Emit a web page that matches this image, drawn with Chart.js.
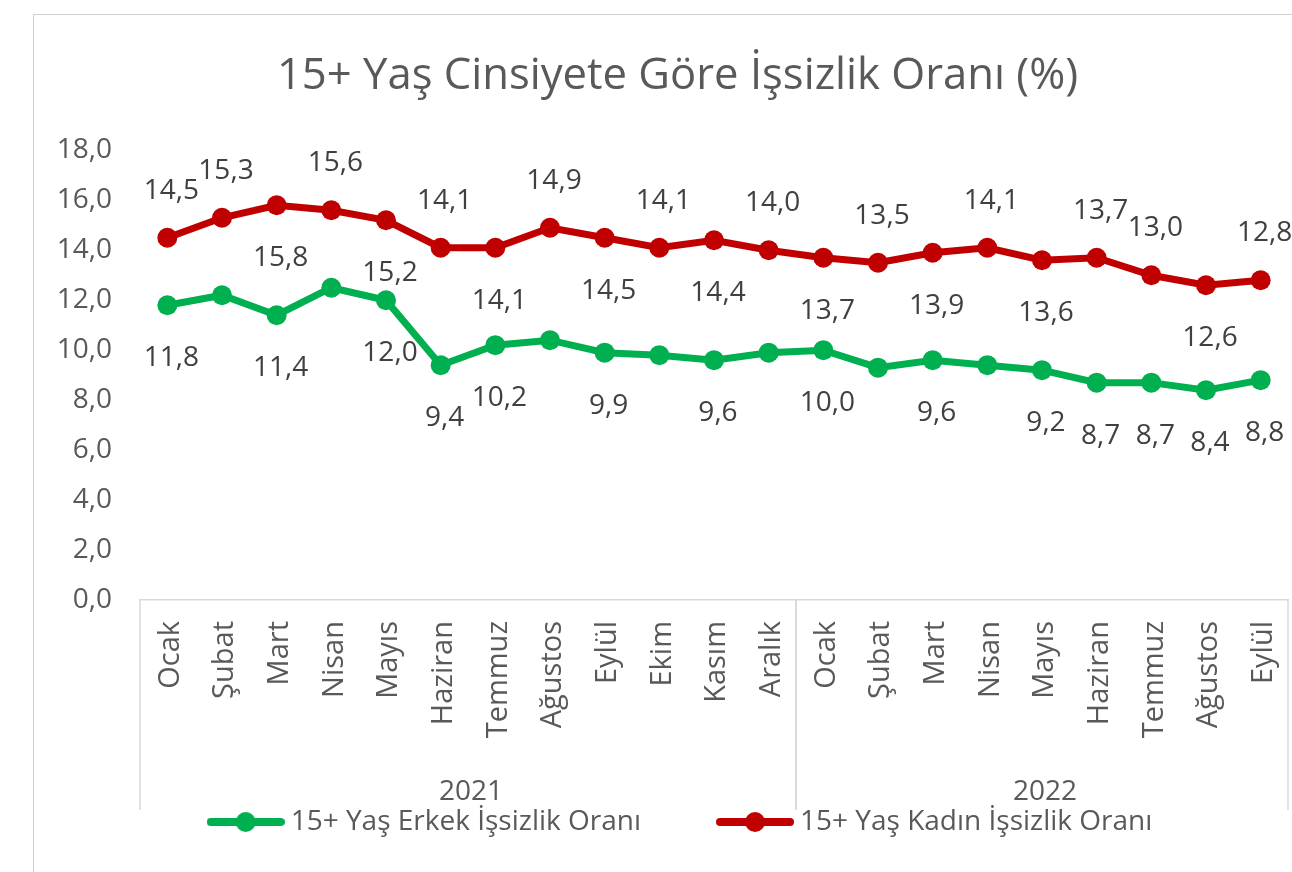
<!DOCTYPE html>
<html><head><meta charset="utf-8">
<script src="https://cdn.jsdelivr.net/npm/chart.js@4.4.1/dist/chart.umd.min.js"></script>
<style>
html,body{margin:0;padding:0;background:#fff;overflow:hidden;width:1292px;height:872px;}
#frame{position:absolute;left:33px;top:14px;width:1400px;height:900px;border-left:1px solid #d0d0d0;border-top:1px solid #d0d0d0;}
#c{position:absolute;left:34px;top:15px;}
</style></head><body>
<div id="frame"></div>
<canvas id="c" width="1267" height="857"></canvas>
<script>
// ---- data ----
const months = ['Ocak','Şubat','Mart','Nisan','Mayıs','Haziran','Temmuz','Ağustos','Eylül','Ekim','Kasım','Aralık',
                'Ocak','Şubat','Mart','Nisan','Mayıs','Haziran','Temmuz','Ağustos','Eylül'];
const yearLabels = ['2021','2022'];
const yearSpans = [12, 9];
const seriesNames = ['15+ Yaş Erkek İşsizlik Oranı','15+ Yaş Kadın İşsizlik Oranı'];
const erkek = [11.8,12.2,11.4,12.5,12.0,9.4,10.2,10.4,9.9,9.8,9.6,9.9,10.0,9.3,9.6,9.4,9.2,8.7,8.7,8.4,8.8];
const kadin = [14.5,15.3,15.8,15.6,15.2,14.1,14.1,14.9,14.5,14.1,14.4,14.0,13.7,13.5,13.9,14.1,13.6,13.7,13.0,12.6,12.8];
// label placement: 'a' above, 'b' below, null hidden
const erkekLabelSide = ['b',null,'b',null,'b','b','b',null,'b',null,'b',null,'b',null,'b',null,'b','b','b','b','b'];
const kadinLabelSide = ['a','a','b','a','b','a','b','a','b','a','b','a','b','a','b','a','b','a','a','b','a'];

const FONT = '"Open Sans", sans-serif';
const fmt = v => Number(v).toFixed(1).replace('.', ',');
const sides = [erkekLabelSide, kadinLabelSide];
const colors = ['#00B050', '#C00000'];

function makeMarker(color) {
  const c = document.createElement('canvas'); c.width = 78; c.height = 22;
  const g = c.getContext('2d');
  g.strokeStyle = color; g.lineWidth = 8; g.lineCap = 'round';
  g.beginPath(); g.moveTo(4, 11); g.lineTo(74, 11); g.stroke();
  g.fillStyle = color; g.beginPath(); g.arc(39, 11, 10, 0, Math.PI * 2); g.fill();
  return c;
}

const dataLabels = {
  id: 'dataLabels',
  afterDatasetsDraw(chart) {
    const ctx = chart.ctx;
    ctx.save();
    ctx.font = '28px ' + FONT; ctx.fillStyle = '#404040';
    ctx.textAlign = 'center'; ctx.textBaseline = 'middle';
    chart.data.datasets.forEach((ds, i) => {
      const meta = chart.getDatasetMeta(i);
      meta.data.forEach((pt, j) => {
        const s = sides[i][j]; if (!s) return;
        ctx.fillText(fmt(ds.data[j]), pt.x + 4, pt.y + (s === 'a' ? -47 : 53));
      });
    });
    ctx.restore();
  }
};

const groupAxis = {
  id: 'groupAxis',
  afterDraw(chart) {
    const x = chart.scales.x, ctx = chart.ctx, ca = chart.chartArea;
    const half = (x.getPixelForValue(1) - x.getPixelForValue(0)) / 2;
    const yEnd = 795;
    ctx.save();
    ctx.strokeStyle = '#d9d9d9'; ctx.lineWidth = 1.5;
    ctx.font = '28px ' + FONT; ctx.fillStyle = '#595959';
    ctx.textAlign = 'center'; ctx.textBaseline = 'middle';
    let start = 0;
    yearSpans.forEach((n, g) => {
      const l = x.getPixelForValue(start) - half;
      const r = x.getPixelForValue(start + n - 1) + half;
      [l, r].forEach(px => { ctx.beginPath(); ctx.moveTo(px, ca.bottom); ctx.lineTo(px, yEnd); ctx.stroke(); });
      ctx.fillText(yearLabels[g], (l + r) / 2 + 3, 777);
      start += n;
    });
    ctx.restore();
  }
};

// place the legend where the reference has it (overlapping the lower axis band)
const legendNudge = {
  id: 'legendNudge',
  afterLayout(chart) {
    const lg = chart.legend; if (!lg) return;
    lg.left += 6; lg.right += 6; lg.top -= 25; lg.bottom -= 25;
  }
};

function draw() {
  const markers = colors.map(makeMarker);
  new Chart(document.getElementById('c'), {
    type: 'line',
    data: {
      labels: months,
      datasets: [erkek, kadin].map((d, i) => ({
        label: seriesNames[i], data: d,
        borderColor: colors[i], backgroundColor: colors[i],
        pointBackgroundColor: colors[i], pointBorderColor: colors[i],
        borderWidth: 7, pointRadius: 10, pointBorderWidth: 0, tension: 0
      }))
    },
    options: {
      responsive: false, animation: false, devicePixelRatio: 1,
      layout: { padding: { left: 20, right: 0, top: 0, bottom: 1 } },
      plugins: {
        title: { display: true, text: '15+ Yaş Cinsiyete Göre İşsizlik Oranı (%)', color: '#595959',
                 font: { family: FONT, size: 43.6, weight: 'normal', lineHeight: 1.2 },
                 padding: { top: 35, bottom: 48 } },
        legend: { position: 'bottom',
          labels: { usePointStyle: true, pointStyleWidth: 62, padding: 83, color: '#595959',
                    font: { family: FONT, size: 28 },
                    generateLabels(chart) {
                      const items = Chart.defaults.plugins.legend.labels.generateLabels(chart);
                      items.forEach((it, i) => { it.pointStyle = markers[i]; });
                      return items;
                    } } },
        tooltip: { enabled: false }
      },
      scales: {
        x: { offset: true,
             grid: { display: false, drawTicks: false },
             border: { display: true, color: '#d9d9d9', width: 1.5 },
             ticks: { minRotation: 90, maxRotation: 90, autoSkip: false, padding: 21, labelOffset: 3,
                      color: '#595959', font: { family: FONT, size: 29 } },
             afterFit(s) { s.height = 150; s.paddingLeft = 0; s.paddingRight = 0; } },
        y: { min: 0, max: 18,
             grid: { display: false, drawTicks: false }, border: { display: false },
             ticks: { stepSize: 2, padding: 28, color: '#595959', font: { family: FONT, size: 28 },
                      callback: v => fmt(v) },
             afterFit(s) { s.width = 86; } },
        yR: { position: 'right', display: true,
              grid: { display: false, drawTicks: false }, border: { display: false },
              ticks: { display: false },
              afterFit(s) { s.width = 13; } }
      }
    },
    plugins: [dataLabels, groupAxis, legendNudge]
  });
}
if (document.fonts && document.fonts.load) {
  Promise.all([document.fonts.load('28px "Open Sans"')]).then(draw, draw);
} else draw();
</script>
</body></html>
